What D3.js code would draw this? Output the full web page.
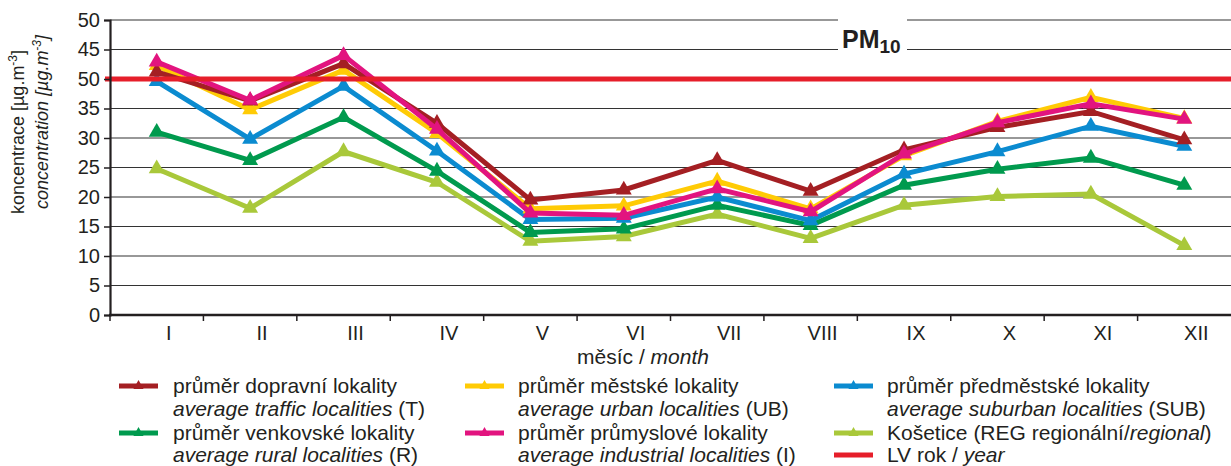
<!DOCTYPE html>
<html>
<head>
<meta charset="utf-8">
<script src="https://cdn.jsdelivr.net/npm/d3@7"></script>
<style>
  body { margin: 0; background: #fff; }
  svg { display: block; font-family: "Liberation Sans", Arial, Helvetica, sans-serif; }
</style>
</head>
<body>
<svg id="chart" width="1231" height="466"></svg>
<script>
// Monthly mean PM10 concentrations by station type
const months = ["I", "II", "III", "IV", "V", "VI", "VII", "VIII", "IX", "X", "XI", "XII"];

const traffic    = [41.2, 36.3, 42.6, 32.5, 19.5, 21.2, 26.2, 21.0, 28.0, 31.8, 34.5, 29.7];
const urban      = [42.3, 34.8, 41.5, 30.8, 18.0, 18.5, 22.7, 18.0, 27.0, 32.8, 36.9, 33.3];
const suburban   = [39.6, 29.8, 38.8, 27.8, 16.2, 16.4, 20.0, 16.0, 23.9, 27.7, 32.0, 28.6];
const rural      = [31.0, 26.2, 33.5, 24.4, 14.0, 14.6, 18.6, 15.2, 22.0, 24.7, 26.6, 22.0];
const industrial = [42.9, 36.4, 44.0, 31.5, 17.3, 16.9, 21.4, 17.5, 27.3, 32.6, 35.8, 33.2];
const kosetice   = [24.8, 18.1, 27.7, 22.5, 12.5, 13.3, 17.1, 13.0, 18.6, 20.1, 20.5, 11.8];

const limitValue = 40; // annual limit value

const yTicks = [0, 5, 10, 15, 20, 25, 30, 35, 40, 45, 50];
const yTickLabels = ["0", "5", "10", "15", "20", "25", "30", "35", "50", "45", "50"];

// Series in drawing order (bottom to top)
const series = [
  { key: "kos", values: kosetice,   color: "#a9c83a" },
  { key: "R",   values: rural,      color: "#009a4e" },
  { key: "SUB", values: suburban,   color: "#0b8bd0" },
  { key: "UB",  values: urban,      color: "#ffcb05" },
  { key: "T",   values: traffic,    color: "#a41f23" },
  { key: "I",   values: industrial, color: "#e2147f" }
];
const limitColor = "#e61e2a";

const svg = d3.select("#chart");
const plotLeft = 110, plotRight = 1231, plotTop = 20, plotBottom = 315;

const x = d3.scaleBand().domain(months).range([plotLeft, plotRight]);
const y = d3.scaleLinear().domain([0, 50]).range([plotBottom, plotTop]);
const cx = m => x(m) + x.bandwidth() / 2;

// Horizontal grid
svg.append("g")
  .selectAll("line")
  .data(yTicks.filter(v => v > 0 && v !== limitValue))
  .join("line")
  .attr("x1", plotLeft).attr("x2", plotRight)
  .attr("y1", d => y(d)).attr("y2", d => y(d))
  .attr("stroke", "#333").attr("stroke-width", 1.2);

// Title box over the grid
const titleG = svg.append("g");
titleG.append("rect")
  .attr("x", 838).attr("y", 8).attr("width", 69).attr("height", 55)
  .attr("fill", "#fff");
const title = titleG.append("text")
  .attr("x", 842).attr("y", 48)
  .attr("font-weight", "bold").attr("font-size", 25).attr("fill", "#231f20");
title.append("tspan").text("PM");
title.append("tspan").attr("dy", 5).attr("font-size", 19).text("10");

// Series lines and markers
const line = d3.line().x((d, i) => cx(months[i])).y(d => y(d)).curve(d3.curveLinear);
const tri = d3.symbol(d3.symbolTriangle, 110);

series.forEach(s => {
  const g = svg.append("g");
  g.append("path")
    .attr("d", line(s.values))
    .attr("fill", "none")
    .attr("stroke", s.color)
    .attr("stroke-width", 5)
    .attr("stroke-linejoin", "miter");
  g.selectAll("path.m")
    .data(s.values)
    .join("path")
    .attr("class", "m")
    .attr("d", tri)
    .attr("transform", (d, i) => `translate(${cx(months[i])},${y(d)})`)
    .attr("fill", s.color);
});

// Limit value line
svg.append("line")
  .attr("x1", plotLeft - 5).attr("x2", plotRight)
  .attr("y1", y(limitValue)).attr("y2", y(limitValue))
  .attr("stroke", limitColor).attr("stroke-width", 5);

// Y axis
const yAxis = svg.append("g")
  .attr("transform", `translate(${plotLeft},0)`)
  .call(d3.axisLeft(y).tickValues(yTicks).tickFormat((d, i) => yTickLabels[i]).tickSize(6).tickPadding(4));
yAxis.select(".domain").attr("stroke", "#231f20").attr("stroke-width", 2.2);
yAxis.selectAll(".tick line").attr("stroke", "#231f20").attr("stroke-width", 1.5);
yAxis.selectAll(".tick text")
  .attr("font-size", 20).attr("fill", "#231f20")
  .attr("font-family", "Liberation Sans, Arial, sans-serif");

// X axis
svg.append("line")
  .attr("x1", plotLeft - 1).attr("x2", plotRight)
  .attr("y1", plotBottom).attr("y2", plotBottom)
  .attr("stroke", "#231f20").attr("stroke-width", 2.5);
svg.append("g")
  .selectAll("line")
  .data(months)
  .join("line")
  .attr("x1", d => x(d)).attr("x2", d => x(d))
  .attr("y1", plotBottom).attr("y2", plotBottom + 6)
  .attr("stroke", "#231f20").attr("stroke-width", 1.5);
svg.append("g")
  .selectAll("text")
  .data(months)
  .join("text")
  .attr("x", d => cx(d) + 12)
  .attr("y", plotBottom + 25)
  .attr("text-anchor", "middle")
  .attr("font-size", 20).attr("fill", "#231f20")
  .text(d => d);

// Axis titles
const xt = svg.append("text")
  .attr("x", 643).attr("y", 364)
  .attr("text-anchor", "middle").attr("font-size", 21).attr("fill", "#231f20");
xt.append("tspan").text("měsíc / ");
xt.append("tspan").attr("font-style", "italic").text("month");

function yTitle(xPos, yCenter, word, italic) {
  const t = svg.append("text")
    .attr("transform", `translate(${xPos},${yCenter}) rotate(-90)`)
    .attr("text-anchor", "middle")
    .attr("font-size", 18).attr("fill", "#231f20")
    .attr("font-style", italic ? "italic" : "normal");
  t.append("tspan").text(word + " [µg.m");
  t.append("tspan").attr("dy", -7).attr("font-size", 12).text("-3");
  t.append("tspan").attr("dy", 7).text("]");
}
yTitle(24, 132, "koncentrace", false);
yTitle(48, 122, "concentration", true);

// Legend
const legendItems = [
  { color: "#a41f23", marker: true, col: 0, row: 0,
    lines: [[["průměr dopravní lokality", false]], [["average traffic localities", true], [" (T)", false]]] },
  { color: "#ffcb05", marker: true, col: 1, row: 0,
    lines: [[["průměr městské lokality", false]], [["average urban localities", true], [" (UB)", false]]] },
  { color: "#0b8bd0", marker: true, col: 2, row: 0,
    lines: [[["průměr předměstské lokality", false]], [["average suburban localities", true], [" (SUB)", false]]] },
  { color: "#009a4e", marker: true, col: 0, row: 2,
    lines: [[["průměr venkovské lokality", false]], [["average rural localities", true], [" (R)", false]]] },
  { color: "#e2147f", marker: true, col: 1, row: 2,
    lines: [[["průměr průmyslové lokality", false]], [["average industrial localities", true], [" (I)", false]]] },
  { color: "#a9c83a", marker: true, col: 2, row: 2,
    lines: [[["Košetice (REG regionální/", false], ["regional", true], [")", false]]] },
  { color: limitColor, marker: false, col: 2, row: 3,
    lines: [[["LV rok / ", false], ["year", true]]] }
];
const colSymX = [119, 465, 834];
const colTextX = [173, 518, 887];
const rowBase = [393, 416, 440, 462];
const triSmall = d3.symbol(d3.symbolTriangle, 45);

legendItems.forEach(it => {
  const g = svg.append("g");
  const base = rowBase[it.row];
  const sy = base - 7;
  g.append("line")
    .attr("x1", colSymX[it.col]).attr("x2", colSymX[it.col] + 39)
    .attr("y1", sy).attr("y2", sy)
    .attr("stroke", it.color).attr("stroke-width", 5);
  if (it.marker) {
    g.append("path").attr("d", triSmall)
      .attr("transform", `translate(${colSymX[it.col] + 19.5},${sy})`)
      .attr("fill", it.color);
  }
  it.lines.forEach((parts, li) => {
    const t = g.append("text")
      .attr("x", colTextX[it.col]).attr("y", rowBase[it.row + li])
      .attr("font-size", 21).attr("fill", "#231f20");
    parts.forEach(([txt, ital]) => {
      t.append("tspan").attr("font-style", ital ? "italic" : "normal").text(txt);
    });
  });
});
</script>
</body>
</html>
